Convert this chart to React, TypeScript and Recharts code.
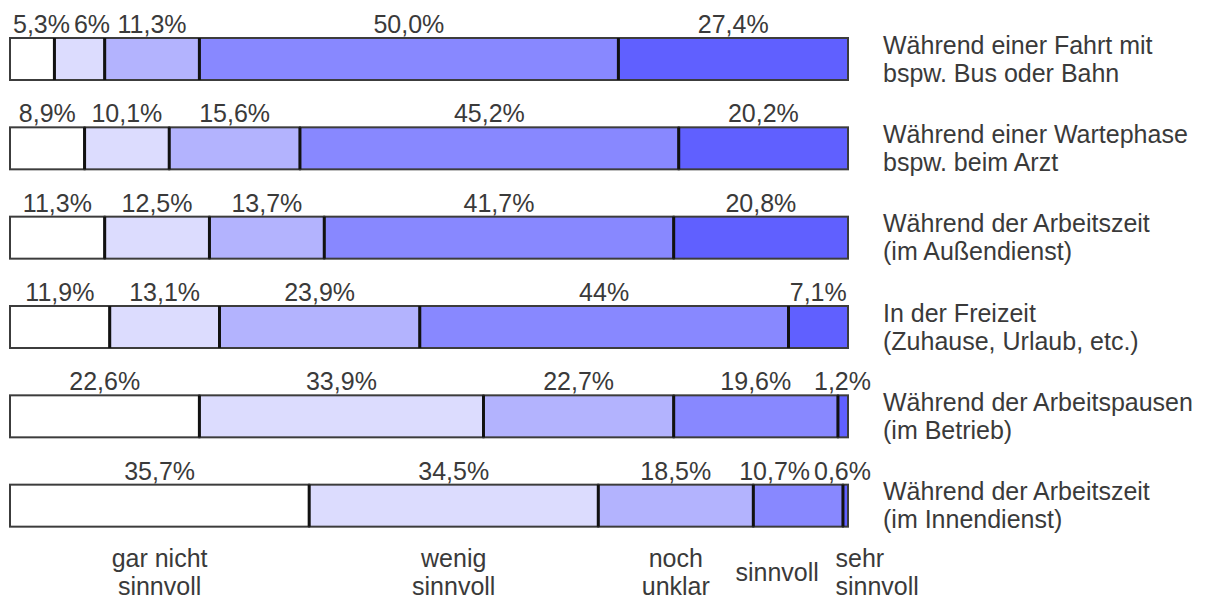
import React from "react";
import { BarChart, Bar, XAxis, YAxis, LabelList } from "recharts";

const categoryLine1 = [
  "Während einer Fahrt mit",
  "Während einer Wartephase",
  "Während der Arbeitszeit",
  "In der Freizeit",
  "Während der Arbeitspausen",
  "Während der Arbeitszeit",
];
const categoryLine2 = [
  "bspw. Bus oder Bahn",
  "bspw. beim Arzt",
  "(im Außendienst)",
  "(Zuhause, Urlaub, etc.)",
  "(im Betrieb)",
  "(im Innendienst)",
];

const garNicht = [5.3, 8.9, 11.3, 11.9, 22.6, 35.7];
const wenig = [6, 10.1, 12.5, 13.1, 33.9, 34.5];
const nochUnklar = [11.3, 15.6, 13.7, 23.9, 22.7, 18.5];
const sinnvoll = [50.0, 45.2, 41.7, 44, 19.6, 10.7];
const sehrSinnvoll = [27.4, 20.2, 20.8, 7.1, 1.2, 0.6];

const garNichtLabels = ["5,3%", "8,9%", "11,3%", "11,9%", "22,6%", "35,7%"];
const wenigLabels = ["6%", "10,1%", "12,5%", "13,1%", "33,9%", "34,5%"];
const nochUnklarLabels = ["11,3%", "15,6%", "13,7%", "23,9%", "22,7%", "18,5%"];
const sinnvollLabels = ["50,0%", "45,2%", "41,7%", "44%", "19,6%", "10,7%"];
const sehrSinnvollLabels = ["27,4%", "20,2%", "20,8%", "7,1%", "1,2%", "0,6%"];

const seriesNames = ["gar nicht sinnvoll", "wenig sinnvoll", "noch unklar", "sinnvoll", "sehr sinnvoll"];
const legendLine1 = ["gar nicht", "wenig", "noch", "sinnvoll", "sehr"];
const legendLine2 = ["sinnvoll", "sinnvoll", "unklar", "", "sinnvoll"];
const seriesColors = ["#ffffff", "#dcdcfe", "#b3b3fe", "#8888ff", "#6060ff"];

const seriesValues = [garNicht, wenig, nochUnklar, sinnvoll, sehrSinnvoll];
const seriesLabels = [garNichtLabels, wenigLabels, nochUnklarLabels, sinnvollLabels, sehrSinnvollLabels];

const data = categoryLine1.map((l1, r) => {
  const row: Record<string, any> = { name: l1 + " " + categoryLine2[r] };
  seriesValues.forEach((vals, i) => {
    row["s" + i] = vals[r];
    row["l" + i] = seriesLabels[i][r];
  });
  return row;
});

// legend tick positions: segment midpoints of the last row
const lastRow = seriesValues.map((v) => v[v.length - 1]);
const legendTicks: number[] = [];
{
  let acc = 0;
  lastRow.forEach((v) => {
    legendTicks.push(Math.round((acc + v / 2) * 100) / 100);
    acc += v;
  });
}
const legendDx = [0, 0, 0, -21, -10];
const legendAnchor = ["middle", "middle", "middle", "middle", "start"];

const TEXT = "#3a3a3a";
const FONT = "'Liberation Sans', Arial, sans-serif";
const FS = 25;

let measureCtx: CanvasRenderingContext2D | null = null;
const measure = (s: string) => {
  if (!measureCtx) measureCtx = document.createElement("canvas").getContext("2d");
  if (!measureCtx) return s.length * FS * 0.55;
  measureCtx.font = `${FS}px ${FONT}`;
  return measureCtx.measureText(s).width;
};

// place the labels of one row so they don't overlap
const labelCenters = (r: number, left: number, ppu: number) => {
  const n = seriesValues.length;
  const c: number[] = [];
  const w: number[] = [];
  let acc = 0;
  for (let k = 0; k < n; k++) {
    const v = seriesValues[k][r];
    c.push(left + (acc + v / 2) * ppu);
    w.push(measure(seriesLabels[k][r]));
    acc += v;
  }
  const gap = 4;
  const minLeft = left + 3;
  const maxRight = left + acc * ppu + 23;
  const pos = c.slice();
  pos[0] = Math.max(pos[0], minLeft + w[0] / 2);
  for (let k = 1; k < n; k++) pos[k] = Math.max(pos[k], pos[k - 1] + w[k - 1] / 2 + gap + w[k] / 2);
  pos[n - 1] = Math.min(pos[n - 1], maxRight - w[n - 1] / 2);
  for (let k = n - 2; k >= 0; k--) pos[k] = Math.min(pos[k], pos[k + 1] - w[k + 1] / 2 - gap - w[k] / 2);
  return pos;
};

const makeLabel = (i: number) => (props: any) => {
  const { x, y, width, index, value } = props;
  const r = index;
  const v = seriesValues[i][r];
  if (!v) return null;
  const ppu = width / v;
  let before = 0;
  for (let k = 0; k < i; k++) before += seriesValues[k][r];
  const left = x - before * ppu;
  const pos = labelCenters(r, left, ppu);
  return (
    <text x={pos[i]} y={y - 5} fill={TEXT} fontSize={FS} fontFamily={FONT} textAnchor="middle">
      {value}
    </text>
  );
};

const makeShape = (i: number) => (props: any) => {
  const { x, y, width, height, fill } = props;
  return (
    <g>
      <rect x={x} y={y} width={width} height={height} fill={fill} stroke="#3c3c3c" strokeWidth={2} />
      {i > 0 && <line x1={x} x2={x} y1={y} y2={y + height} stroke="#111" strokeWidth={3} />}
    </g>
  );
};

const CategoryTick = (props: any) => {
  const { x, y, payload } = props;
  const idx = typeof payload.index === "number" ? payload.index : data.findIndex((d) => d.name === payload.value);
  return (
    <g>
      <text x={x + 35} y={y - 5} fill={TEXT} fontSize={FS} fontFamily={FONT} textAnchor="start">
        {categoryLine1[idx]}
      </text>
      <text x={x + 35} y={y + 23} fill={TEXT} fontSize={FS} fontFamily={FONT} textAnchor="start">
        {categoryLine2[idx]}
      </text>
    </g>
  );
};

const LegendTick = (props: any) => {
  const { x, y, payload } = props;
  const idx = legendTicks.indexOf(payload.value);
  if (idx < 0) return null;
  const tx = x + legendDx[idx];
  const anchor = legendAnchor[idx] as any;
  if (!legendLine2[idx]) {
    return (
      <text x={tx} y={y + 31} fill={TEXT} fontSize={FS} fontFamily={FONT} textAnchor={anchor}>
        {legendLine1[idx]}
      </text>
    );
  }
  return (
    <g>
      <text x={tx} y={y + 17} fill={TEXT} fontSize={FS} fontFamily={FONT} textAnchor={anchor}>
        {legendLine1[idx]}
      </text>
      <text x={tx} y={y + 45} fill={TEXT} fontSize={FS} fontFamily={FONT} textAnchor={anchor}>
        {legendLine2[idx]}
      </text>
    </g>
  );
};

export default function App() {
  return (
    <div style={{ width: 1200, height: 592, fontFamily: FONT }}>
      <BarChart
        width={1200}
        height={592}
        data={data}
        layout="vertical"
        margin={{ top: 6, right: 0, bottom: 0, left: 2 }}
        barSize={42}
      >
        <XAxis
          type="number"
          domain={[0, 100]}
          ticks={legendTicks}
          interval={0}
          axisLine={false}
          tickLine={false}
          tickSize={0}
          tickMargin={0}
          height={50}
          tick={<LegendTick />}
        />
        <YAxis
          type="category"
          dataKey="name"
          orientation="right"
          width={360}
          axisLine={false}
          tickLine={false}
          tickSize={0}
          tickMargin={0}
          interval={0}
          tick={<CategoryTick />}
        />
        {seriesNames.map((n, i) => (
          <Bar
            key={n}
            name={n}
            dataKey={"s" + i}
            stackId="a"
            fill={seriesColors[i]}
            isAnimationActive={false}
            shape={makeShape(i)}
          >
            <LabelList dataKey={"l" + i} content={makeLabel(i)} />
          </Bar>
        ))}
      </BarChart>
    </div>
  );
}
